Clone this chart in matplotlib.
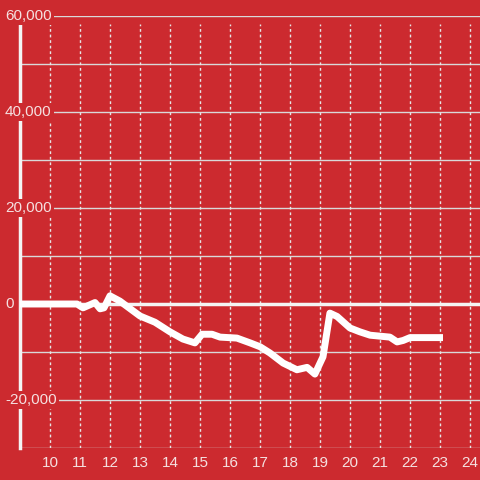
import matplotlib.pyplot as plt
import matplotlib.transforms as mtransforms

# values
x_vals = [9.0, 10.9, 11.1, 11.5, 11.67, 11.8, 12.0, 12.33, 13.0, 13.5, 14.0, 14.43,
          14.83, 15.07, 15.4, 15.67, 16.23, 16.67, 17.0, 17.33, 17.77, 18.23, 18.57,
          18.83, 19.1, 19.33, 19.57, 20.0, 20.33, 20.67, 21.33, 21.57, 21.77, 22.0, 23.1]
y_vals = [0, 0, -800, 300, -1000, -800, 1700, 600, -2500, -3800, -5800, -7300,
          -8100, -6300, -6300, -6900, -7100, -8100, -8900, -10200, -12300, -13700, -13200,
          -14600, -11000, -1900, -2600, -5000, -5800, -6500, -6900, -7900, -7600, -7000, -7000]

x_ticks = list(range(10, 25))
y_major = [-20000, 0, 20000, 40000, 60000]
y_minor = [-30000, -10000, 10000, 30000, 50000]

bg = '#cc2a2f'
txt = '#f5e0e0'
grid = '#d9d9d9'

plt.rcParams['font.family'] = ['Liberation Sans', 'DejaVu Sans']

fig = plt.figure(figsize=(4.8, 4.8), dpi=100, facecolor=bg)
ax = fig.add_axes([20 / 480, 32 / 480, 460 / 480, 432 / 480])
ax.set_facecolor(bg)
ax.set_xlim(9, 24.333)
ax.set_ylim(-30000, 60000)

# horizontal grid
for v in y_major + y_minor:
    if v == 0:
        continue
    ax.axhline(v, color=grid, lw=1, zorder=1)
ax.axhline(0, color='#f4f4f4', lw=2.5, zorder=2)

# vertical dotted grid
ax.vlines(x_ticks, -30000, 58300, colors='#e6e6e6', lw=1,
          linestyles=(0, (2, 2)), zorder=1)

for s in ['top', 'right', 'bottom']:
    ax.spines[s].set_visible(False)
ax.spines['left'].set_color('#f4f4f4')
ax.spines['left'].set_linewidth(2.5)
ax.spines['left'].set_bounds(-30000, 58300)

ax.set_yticks([])
ax.set_xticks(x_ticks)
ax.set_xticklabels([str(t) for t in x_ticks], color=txt, fontsize=11)
ax.tick_params(axis='x', length=0, pad=6)

trans = mtransforms.blended_transform_factory(ax.transAxes, ax.transData)
for v in y_major:
    ax.text(-15 / 460, v, f'{v:,}', transform=trans, ha='left', va='center',
            color=txt, fontsize=11, zorder=4, clip_on=False,
            bbox=dict(facecolor=bg, edgecolor='none', pad=1.5))

ax.plot(x_vals, y_vals, color='white', lw=5, solid_joinstyle='round',
        solid_capstyle='butt', zorder=5)

fig.savefig('out.png', dpi=100, facecolor=bg)
